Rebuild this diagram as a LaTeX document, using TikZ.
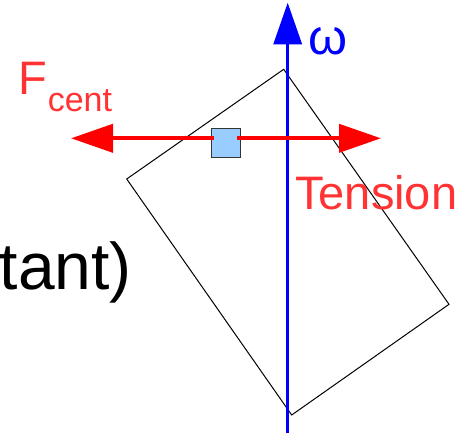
\documentclass[tikz,border=0pt]{standalone}
\usepackage{fontspec}
\setmainfont{Liberation Sans}
\usetikzlibrary{arrows.meta}
\definecolor{forcered}{HTML}{FF0000}
\definecolor{labelred}{HTML}{FF3333}
\definecolor{axisblue}{HTML}{0000FF}
\definecolor{massblue}{HTML}{99CCFF}
\tikzset{
  plate/.style={draw=black, line width=1pt, line join=miter},
  axisarrow/.style={draw=axisblue, line width=3.3pt, -{Triangle[length=41.6pt,width=28pt]}},
  forcearrow/.style={draw=forcered, line width=4pt, -{Triangle[length=42pt,width=28pt]}},
  mass/.style={draw=black!80, fill=massblue, line width=0.9pt, minimum width=29pt, minimum height=29pt, inner sep=0pt},
  redlabel/.style={text=labelred, inner sep=0pt, font=\fontsize{47}{56}\selectfont},
}
\begin{document}
\begin{tikzpicture}[x=1pt,y=-1pt]
\useasboundingbox (0,0) rectangle (460,433);
\clip (0,0) rectangle (460,433);
% tilted plate
\coordinate (ptop) at (283.7,69.3);
\coordinate (pright) at (449,304.3);
\coordinate (pbottom) at (291.7,415);
\coordinate (pleft) at (126.7,179);
\draw[plate] (ptop) -- (pright) -- (pbottom) -- (pleft) -- cycle;
% rotation axis
\coordinate (axisbase) at (287.7,433);
\coordinate (axistip) at (287.7,2.7);
\draw[axisarrow] (axisbase) -- (axistip);
% forces
\node[mass] (m) at (226.2,142.8) {};
\coordinate (fleft) at (71,138.3);
\coordinate (fright) at (381,138.3);
\coordinate (mleft) at (214,138.3);
\coordinate (mright) at (237.3,138.3);
\draw[forcearrow] (mleft) -- (fleft);
\draw[forcearrow] (mright) -- (fright);
% labels
\node[text=axisblue, inner sep=0pt, anchor=base west, font=\fontsize{50}{60}\selectfont] (omega) at (308,55) {ω};
\node[redlabel, anchor=base west] (fcent) at (18.3,95) {F\kern0.6pt\raisebox{-16.7pt}{\fontsize{34}{40}\selectfont cent}};
\node[redlabel, anchor=base west] (tension) at (295,209.3) {Tension};
\node[inner sep=0pt, anchor=base east, font=\fontsize{66}{79}\selectfont] (const) at (132,289.3) {(constant)};
\end{tikzpicture}
\end{document}
